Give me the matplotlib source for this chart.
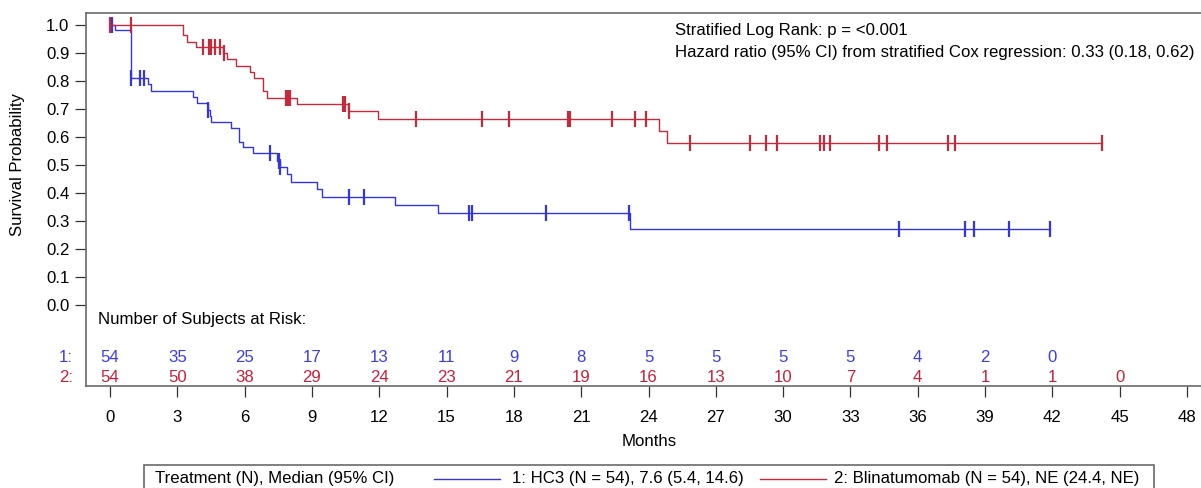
import numpy as np
import matplotlib
matplotlib.use("Agg")
import matplotlib.pyplot as plt
from matplotlib import transforms
from matplotlib.patches import Rectangle
from matplotlib.lines import Line2D

plt.rcParams['font.family'] = ['Liberation Sans', 'DejaVu Sans']

# ---------------- data ----------------
# HC3 (arm 1) Kaplan-Meier steps
hc3_times = [0, 0.22, 0.94, 1.71, 1.84, 3.71, 3.88, 4.38, 4.46, 4.5, 5.38, 5.77, 5.94, 6.36,
             7.43, 7.58, 7.9, 8.08, 9.21, 9.47, 12.69, 14.6, 23.18, 41.88]
hc3_surv = [1.0, 0.983, 0.81, 0.788, 0.764, 0.744, 0.72, 0.696, 0.675, 0.654, 0.631, 0.583, 0.563, 0.542,
            0.515, 0.492, 0.468, 0.44, 0.414, 0.385, 0.357, 0.327, 0.273, 0.273]
hc3_censor = [0.1, 0.94, 1.32, 1.52, 4.38, 7.13, 7.55, 7.58, 10.67, 11.32, 16.01, 16.13, 19.41,
              23.15, 35.16, 38.12, 38.5, 40.07, 41.88]

# Blinatumomab (arm 2) Kaplan-Meier steps
bli_times = [0, 3.24, 3.42, 3.85, 5.05, 5.2, 5.63, 6.26, 6.42, 6.8, 6.98, 8.35, 10.6, 11.96,
             24.45, 24.82, 44.23]
bli_surv = [1.0, 0.964, 0.94, 0.922, 0.90, 0.877, 0.854, 0.833, 0.81, 0.764, 0.74, 0.717, 0.693, 0.663,
            0.623, 0.58, 0.58]
bli_censor = [0.0, 0.92, 4.13, 4.42, 4.48, 4.68, 4.89, 5.1, 7.84, 7.93, 8.02, 10.4, 10.49, 10.67,
              13.64, 16.6, 17.77, 20.42, 20.52, 22.38, 23.4, 23.91, 25.84, 28.53, 29.22, 29.74,
              31.65, 31.82, 32.1, 34.27, 34.64, 37.36, 37.67, 44.23]

risk_times = [0, 3, 6, 9, 12, 15, 18, 21, 24, 27, 30, 33, 36, 39, 42, 45]
risk_hc3 = [54, 35, 25, 17, 13, 11, 9, 8, 5, 5, 5, 5, 4, 2, 0]
risk_bli = [54, 50, 38, 29, 24, 23, 21, 19, 16, 13, 10, 7, 4, 1, 1, 0]

x_ticks = list(range(0, 49, 3))
y_ticks = [0.0, 0.1, 0.2, 0.3, 0.4, 0.5, 0.6, 0.7, 0.8, 0.9, 1.0]

legend_title = "Treatment (N), Median (95% CI)"
legend_labels = ["1: HC3 (N = 54), 7.6 (5.4, 14.6)", "2: Blinatumomab (N = 54), NE (24.4, NE)"]
stats_lines = ["Stratified Log Rank: p = <0.001",
               "Hazard ratio (95% CI) from stratified Cox regression: 0.33 (0.18, 0.62)"]

BLUE = '#3434E0'
RED = '#C42A3C'
BLUE_TXT = '#3C3CEE'
RED_TXT = '#C8203A'

W, H = 1201, 488
fig = plt.figure(figsize=(W / 100, H / 100), dpi=100)

def fx(px):
    return px / W

def fy(py):
    return 1 - py / H

# axes geometry (pixels)
left_px, right_px, top_px, bot_px = 86, 1212, 13, 386
ax = fig.add_axes([fx(left_px), fy(bot_px), fx(right_px - left_px), (bot_px - top_px) / H])

x0_px, px_per_month = 110, (1187 - 110) / 48
y0_px, px_per_unit = 305, 280
ax.set_xlim((left_px - x0_px) / px_per_month, (right_px - x0_px) / px_per_month)
ax.set_ylim(-(bot_px - y0_px) / px_per_unit, 1 + (y0_px - top_px - 280) / px_per_unit)

FS = 12.1

def km(times, surv, censor, color):
    ax.step(times, surv, where='post', color=color, lw=1.0)
    t = np.asarray(times)
    s = np.asarray(surv)
    idx = np.searchsorted(t, censor, side='right') - 1
    ax.plot(censor, s[idx], linestyle='none', marker='|', markersize=12,
            markeredgewidth=1.6, color=color)

km(hc3_times, hc3_surv, hc3_censor, BLUE)
km(bli_times, bli_surv, bli_censor, RED)

ax.set_xticks(x_ticks)
ax.set_xticklabels([str(v) for v in x_ticks], fontsize=FS)
ax.set_yticks(y_ticks)
ax.set_yticklabels([f"{v:.1f}" for v in y_ticks], fontsize=FS)
ax.tick_params(axis='both', direction='out', length=8, width=0.9, color='#333333')
ax.tick_params(axis='x', pad=9)
ax.tick_params(axis='y', pad=4)
for sp in ax.spines.values():
    sp.set_color('#6a6a6a')
    sp.set_linewidth(1.2)

# stats annotation
fig.text(fx(675), fy(31), stats_lines[0], fontsize=FS, va='center', ha='left')
fig.text(fx(675), fy(53), stats_lines[1], fontsize=FS, va='center', ha='left')

# at-risk table
bt = transforms.blended_transform_factory(ax.transData, fig.transFigure)
fig.text(fx(98.5), fy(319.5), "Number of Subjects at Risk:", fontsize=FS, va='center', ha='left')
for t, n in zip(risk_times, risk_hc3):
    ax.text(t, fy(357), str(n), transform=bt, color=BLUE_TXT, fontsize=FS, ha='center', va='center')
for t, n in zip(risk_times, risk_bli):
    ax.text(t, fy(378), str(n), transform=bt, color=RED_TXT, fontsize=FS, ha='center', va='center')
fig.text(fx(73), fy(357), "1:", color=BLUE_TXT, fontsize=FS, ha='right', va='center')
fig.text(fx(73), fy(378), "2:", color=RED_TXT, fontsize=FS, ha='right', va='center')

# axis labels
fig.text(fx(18), fy(165), "Survival Probability", rotation=90, fontsize=FS, ha='center', va='center')
fig.text(fx(649), fy(441), "Months", fontsize=FS, ha='center', va='center')

# legend box (bottom, partly cut off)
fig.add_artist(Rectangle((fx(143.5), fy(500)), fx(1153.8 - 143.5), (500 - 465) / H,
                         transform=fig.transFigure, fill=False, edgecolor='#6a6a6a', lw=1.2))
fig.text(fx(155), fy(479), legend_title, fontsize=FS, ha='left', va='center')
fig.add_artist(Line2D([fx(434), fx(500)], [fy(479), fy(479)], transform=fig.transFigure, color=BLUE, lw=1.0))
fig.text(fx(512), fy(479), legend_labels[0], fontsize=FS, ha='left', va='center')
fig.add_artist(Line2D([fx(760), fx(826)], [fy(479), fy(479)], transform=fig.transFigure, color=RED, lw=1.0))
fig.text(fx(834), fy(479), legend_labels[1], fontsize=FS, ha='left', va='center')

fig.savefig("out.png", dpi=100)
